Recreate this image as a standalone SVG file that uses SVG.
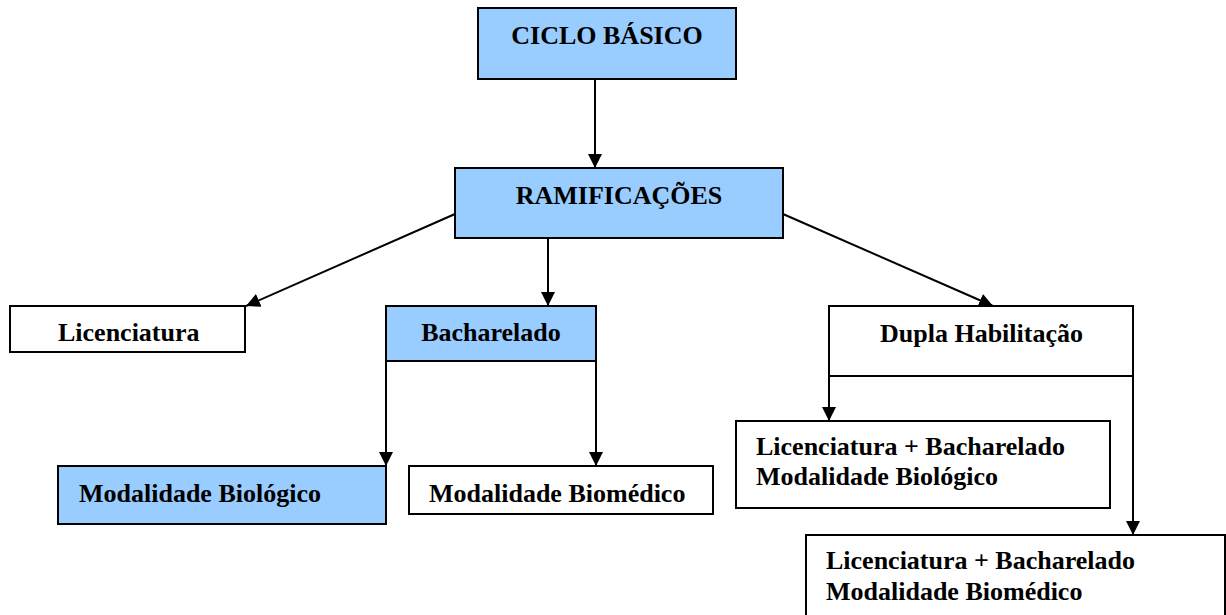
<svg xmlns="http://www.w3.org/2000/svg" width="1226" height="615" viewBox="0 0 1226 615">
<defs>
<style>
.box{stroke:#000;stroke-width:2}
.blue{fill:#99CCFF}
.white{fill:#fff}
.t{font-family:"Liberation Serif","Times New Roman",serif;font-weight:bold;font-size:26px;fill:#000}
.c{stroke:#000;stroke-width:2;fill:none}
</style>
<marker id="ah" viewBox="0 0 14 14" refX="14" refY="7" markerWidth="14" markerHeight="14" markerUnits="userSpaceOnUse" orient="auto">
<path d="M0,0 L14,7 L0,14 Z" fill="#000"/>
</marker>
</defs>
<rect width="1226" height="615" fill="#fff"/>
<g id="connectors">
<line class="c" x1="595" y1="79" x2="595" y2="168" marker-end="url(#ah)"/>
<line class="c" x1="455" y1="214" x2="246" y2="306" marker-end="url(#ah)"/>
<line class="c" x1="548" y1="238" x2="548" y2="306" marker-end="url(#ah)"/>
<line class="c" x1="783" y1="214" x2="993" y2="306" marker-end="url(#ah)"/>
<line class="c" x1="386" y1="361" x2="386" y2="466" marker-end="url(#ah)"/>
<line class="c" x1="596" y1="361" x2="596" y2="466" marker-end="url(#ah)"/>
<line class="c" x1="829" y1="376" x2="829" y2="421" marker-end="url(#ah)"/>
<line class="c" x1="1133" y1="376" x2="1133" y2="535" marker-end="url(#ah)"/>
</g>
<g id="ciclo">
<rect class="box blue" x="478" y="8" width="258" height="71"/>
<text class="t" x="607" y="44" text-anchor="middle">CICLO BÁSICO</text>
</g>
<g id="ramificacoes">
<rect class="box blue" x="455" y="168" width="328" height="70"/>
<text class="t" x="619" y="204" text-anchor="middle">RAMIFICAÇÕES</text>
</g>
<g id="licenciatura">
<rect class="box white" x="10" y="306" width="235" height="46"/>
<text class="t" x="58" y="341">Licenciatura</text>
</g>
<g id="bacharelado">
<rect class="box blue" x="386" y="306" width="210" height="55"/>
<text class="t" x="491" y="341" text-anchor="middle">Bacharelado</text>
</g>
<g id="dupla">
<rect class="box white" x="829" y="306" width="304" height="70"/>
<text class="t" x="880" y="342">Dupla Habilitação</text>
</g>
<g id="mod-biologico">
<rect class="box blue" x="58" y="466" width="328" height="58"/>
<text class="t" x="79" y="502">Modalidade Biológico</text>
</g>
<g id="mod-biomedico">
<rect class="box white" x="409" y="466" width="304" height="48"/>
<text class="t" x="429" y="502">Modalidade Biomédico</text>
</g>
<g id="lb-biologico">
<rect class="box white" x="736" y="421" width="374" height="87"/>
<text class="t" x="756" y="455">Licenciatura + Bacharelado</text>
<text class="t" x="756" y="485">Modalidade Biológico</text>
</g>
<g id="lb-biomedico">
<rect class="box white" x="806" y="535" width="419" height="100"/>
<text class="t" x="826" y="569">Licenciatura + Bacharelado</text>
<text class="t" x="826" y="600">Modalidade Biomédico</text>
</g>
</svg>
